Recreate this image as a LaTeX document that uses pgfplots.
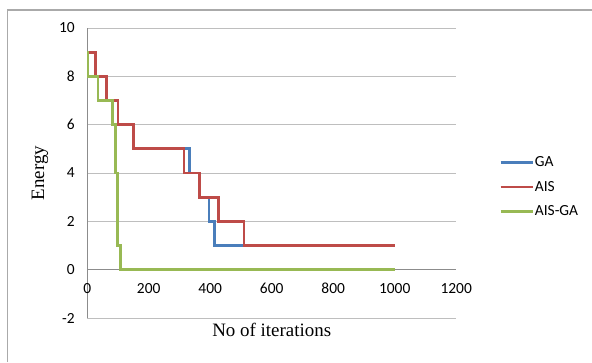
\documentclass[border=0pt]{standalone}
\usepackage{fontspec}
\setmainfont{Liberation Serif}
\newfontfamily\calibri{Carlito}
\usepackage{pgfplots}
\pgfplotsset{compat=1.18}
\definecolor{gaBlue}{RGB}{74,126,187}
\definecolor{aisRed}{RGB}{190,75,72}
\definecolor{hybGreen}{RGB}{152,185,84}
\definecolor{gridc}{RGB}{190,190,190}
\definecolor{axisc}{RGB}{140,140,140}
\definecolor{framec}{RGB}{170,170,170}
\begin{document}
\begin{tikzpicture}[x=1bp,y=1bp]
\useasboundingbox (0,0) rectangle (592,362);
\draw[color=framec, line width=1.2bp] (7.5,0) -- (7.5,352) -- (592,352);
\begin{axis}[
  at={(87.2bp,44bp)}, anchor=south west,
  scale only axis, width=369bp, height=290bp,
  xmin=0, xmax=1200, ymin=-2, ymax=10,
  xtick={0,200,...,1200}, ytick={-2,0,...,10},
  axis y line*=left, axis x line*=middle,
  hide obscured x ticks=false, hide obscured y ticks=false,
  axis line style={color=axisc, line width=0.9bp},
  ymajorgrids, major grid style={color=gridc, line width=0.9bp},
  major tick length=0pt,
  /pgf/number format/assume math mode=true,
  /pgf/number format/1000 sep={},
  tick label style={font=\calibri\fontsize{15.5}{18}\selectfont},
  yticklabel style={xshift=-9bp},
  xticklabel style={yshift=-10bp},
  xlabel={No of iterations}, ylabel={Energy},
  label style={font=\fontsize{19}{22}\selectfont},
  xlabel style={at={(axis description cs:0.5,-0.041)}, anchor=center},
  ylabel style={at={(axis description cs:-0.128,0.5)}, anchor=center, rotate=0},
  legend style={at={(axis description cs:1.116,0.452)}, anchor=west, draw=none, fill=none,
    inner sep=0pt, row sep=11bp, font=\calibri\fontsize{15.5}{18}\selectfont,
    nodes={inner sep=1bp}},
  legend cell align=left,
  legend image code/.code={\draw[#1] (0bp,0bp) -- (32bp,0bp);},
  every axis plot/.append style={line width=2.7bp, const plot},
]
\addplot[color=gaBlue] coordinates {(0,9) (26,8) (63,7) (100,6) (151,5) (333,4) (364,3) (396,2) (415,1) (1000,1)};
\addlegendentry{GA}
\addplot[color=aisRed] coordinates {(0,9) (26,8) (63,7) (100,6) (151,5) (315,4) (365,3) (427,2) (510,1) (1000,1)};
\addlegendentry{AIS}
\addplot[color=hybGreen] coordinates {(0,9) (1,8) (35,7) (82,6) (93,4) (99,1) (109,0) (1000,0)};
\addlegendentry{AIS-GA}
\end{axis}
\end{tikzpicture}
\end{document}
